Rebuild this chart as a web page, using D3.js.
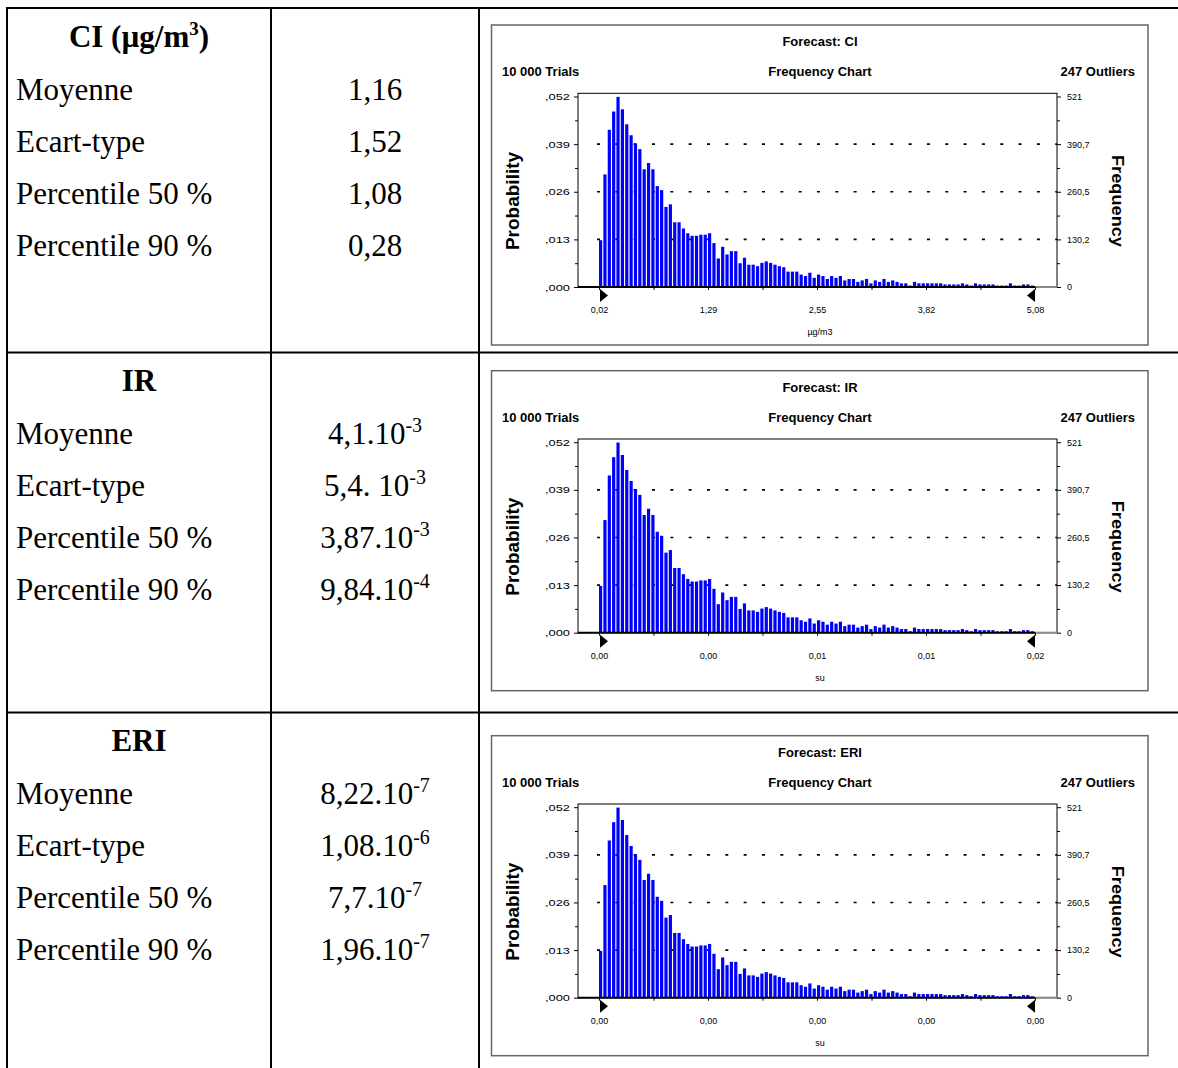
<!DOCTYPE html>
<html>
<head>
<meta charset="utf-8">
<script src="https://cdn.jsdelivr.net/npm/d3@7"></script>
<style>
body { margin: 0; background: #fff; }
</style>
</head>
<body>
<div id="vis"></div>
<script>
// ---- table data
const rowHeaders = ["CI (µg/m", "IR", "ERI"];
const headerSup = ["3", "", ""];
const headerTail = [")", "", ""];
const statLabels = ["Moyenne", "Ecart-type", "Percentile 50 %", "Percentile 90 %"];
const ciValues = ["1,16", "1,52", "1,08", "0,28"];
const ciExp = ["", "", "", ""];
const irValues = ["4,1.10", "5,4. 10", "3,87.10", "9,84.10"];
const irExp = ["-3", "-3", "-3", "-4"];
const eriValues = ["8,22.10", "1,08.10", "7,7.10", "1,96.10"];
const eriExp = ["-7", "-6", "-7", "-7"];

// ---- chart data
const forecastNames = ["CI", "IR", "ERI"];
const unitLabels = ["µg/m3", "su", "su"];
const xTickLabelsCI = ["0,02", "1,29", "2,55", "3,82", "5,08"];
const xTickLabelsIR = ["0,00", "0,00", "0,01", "0,01", "0,02"];
const xTickLabelsERI = ["0,00", "0,00", "0,00", "0,00", "0,00"];
const probTickLabels = [",000", ",013", ",026", ",039", ",052"];
const freqTickValues = [0, 130.2, 260.5, 390.7, 521];
const freqTickLabels = ["0", "130,2", "260,5", "390,7", "521"];
const trialsLabel = "10 000 Trials";
const outliersLabel = "247 Outliers";
const nTrials = 10000;
// probability per cell (100 cells), same shape in the three forecasts
const probabilities = [
  0.0128, 0.0308, 0.0430, 0.0480, 0.0520, 0.0486, 0.0445, 0.0415, 0.0392, 0.0377,
  0.0322, 0.0339, 0.0322, 0.0276, 0.0265, 0.0219, 0.0226, 0.0177, 0.0177, 0.0160,
  0.0147, 0.0140, 0.0140, 0.0143, 0.0143, 0.0147, 0.0120, 0.0078, 0.0110, 0.0089,
  0.0098, 0.0098, 0.0065, 0.0080, 0.0061, 0.0061, 0.0057, 0.0066, 0.0070, 0.0066,
  0.0061, 0.0057, 0.0054, 0.0042, 0.0042, 0.0042, 0.0034, 0.0030, 0.0039, 0.0025,
  0.0034, 0.0030, 0.0022, 0.0030, 0.0025, 0.0030, 0.0018, 0.0022, 0.0022, 0.0014,
  0.0018, 0.0022, 0.0010, 0.0018, 0.0014, 0.0022, 0.0014, 0.0018, 0.0014, 0.0010,
  0.0010, 0.0004, 0.0014, 0.0010, 0.0010, 0.0010, 0.0010, 0.0010, 0.0010, 0.0007,
  0.0007, 0.0007, 0.0007, 0.0010, 0.0007, 0.0004, 0.0010, 0.0007, 0.0007, 0.0007,
  0.0007, 0.0004, 0.0004, 0.0004, 0.0010, 0.0004, 0.0004, 0.0007, 0.0007, 0.0004
];

const tableValues = [ciValues, irValues, eriValues];
const tableExps = [ciExp, irExp, eriExp];
const xTickLabelSets = [xTickLabelsCI, xTickLabelsIR, xTickLabelsERI];

const W = 1178, H = 1068;
const svg = d3.select("#vis").append("svg")
    .attr("width", W).attr("height", H)
    .style("display", "block");

const serif = "'Liberation Serif', 'Times New Roman', serif";
const sans = "'Liberation Sans', Arial, sans-serif";

// ---- table grid
const colX = [7, 271, 479];
const rowY = [8, 352.5, 712.5];
const rowOffsets = [0, 344, 704];

svg.selectAll(".vline").data(colX).join("line")
    .attr("x1", d => d).attr("x2", d => d)
    .attr("y1", 7).attr("y2", H)
    .attr("stroke", "#000").attr("stroke-width", 2);

svg.selectAll(".hline").data(rowY).join("line")
    .attr("x1", 6).attr("x2", W)
    .attr("y1", d => d).attr("y2", d => d)
    .attr("stroke", "#000").attr("stroke-width", 2);

rowHeaders.forEach((h, r) => {
    const g = svg.append("g").attr("transform", `translate(0, ${rowOffsets[r]})`);

    const ht = g.append("text")
        .attr("x", 139).attr("y", 47)
        .attr("text-anchor", "middle")
        .style("font-family", serif).style("font-size", "31px").style("font-weight", "bold")
        .text(h);
    if (headerSup[r]) {
        ht.append("tspan").attr("dy", -12).style("font-size", "19px").text(headerSup[r]);
        ht.append("tspan").attr("dy", 12).text(headerTail[r]);
    }

    statLabels.forEach((s, k) => {
        const by = 99.5 + k * 52.3;
        g.append("text")
            .attr("x", 16).attr("y", by)
            .style("font-family", serif).style("font-size", "31px")
            .text(s);

        const vt = g.append("text")
            .attr("x", 375).attr("y", by)
            .attr("text-anchor", "middle")
            .style("font-family", serif).style("font-size", "31px")
            .text(tableValues[r][k]);
        if (tableExps[r][k]) {
            vt.append("tspan").attr("dy", -12).style("font-size", "20px").text(tableExps[r][k]);
        }
    });
});

// ---- frequency charts
const chartOffsets = [0, 345.7, 710.7];
const plot = { left: 578, right: 1057, top: 93.3, bottom: 287 };

const x = d3.scaleLinear().domain([0, probabilities.length]).range([599, 1035]);
const yFreq = d3.scaleLinear().domain([0, 521]).range([287, 96.5]);
const yProb = d3.scaleLinear().domain([0, 521 / nTrials]).range([287, 96.5]);
const probTickValues = freqTickValues.map(v => v / nTrials);
const xMajor = [0, 25, 50, 75, 100];
const xMinor = d3.pairs(xMajor).map(([a, b]) => (a + b) / 2);
const yMinorProb = d3.pairs(probTickValues).map(([a, b]) => (a + b) / 2);

forecastNames.forEach((name, c) => {
    const g = svg.append("g").attr("transform", `translate(0, ${chartOffsets[c]})`);

    // frame
    g.append("rect")
        .attr("x", 491.5).attr("y", 25)
        .attr("width", 656.5).attr("height", 320)
        .attr("fill", "none").attr("stroke", "#666").attr("stroke-width", 1.5);

    // headings
    g.append("text")
        .attr("x", 820).attr("y", 46)
        .attr("text-anchor", "middle")
        .style("font-family", sans).style("font-size", "13px").style("font-weight", "bold")
        .text(`Forecast: ${name}`);
    g.append("text")
        .attr("x", 502).attr("y", 76)
        .style("font-family", sans).style("font-size", "13px").style("font-weight", "bold")
        .text(trialsLabel);
    g.append("text")
        .attr("x", 820).attr("y", 76)
        .attr("text-anchor", "middle")
        .style("font-family", sans).style("font-size", "13px").style("font-weight", "bold")
        .text("Frequency Chart");
    g.append("text")
        .attr("x", 1135).attr("y", 76)
        .attr("text-anchor", "end")
        .style("font-family", sans).style("font-size", "13px").style("font-weight", "bold")
        .text(outliersLabel);

    // dotted grid
    g.selectAll(".grid").data(probTickValues.slice(1, 4)).join("line")
        .attr("x1", 597).attr("x2", 1057)
        .attr("y1", d => yProb(d)).attr("y2", d => yProb(d))
        .attr("stroke", "#000").attr("stroke-width", 1.6)
        .attr("stroke-dasharray", "3,15.33");

    // bars
    g.selectAll(".bar").data(probabilities).join("rect")
        .attr("x", (_, i) => x(i))
        .attr("y", d => yProb(d))
        .attr("width", 3.2)
        .attr("height", d => yProb(0) - yProb(d))
        .attr("fill", "#0000ff");

    // plot box
    g.append("rect")
        .attr("x", plot.left).attr("y", plot.top)
        .attr("width", plot.right - plot.left).attr("height", plot.bottom - plot.top)
        .attr("fill", "none").attr("stroke", "#000").attr("stroke-width", 1);
    g.append("line")
        .attr("x1", plot.left).attr("x2", x(probabilities.length))
        .attr("y1", plot.bottom).attr("y2", plot.bottom)
        .attr("stroke", "#000").attr("stroke-width", 2);
    g.append("line")
        .attr("x1", x(probabilities.length)).attr("x2", plot.right)
        .attr("y1", plot.bottom).attr("y2", plot.bottom)
        .attr("stroke", "#8a8a8a").attr("stroke-width", 2);

    // left axis (probability)
    const leftAxis = g.append("g")
        .attr("transform", `translate(${plot.left}, 0)`)
        .call(d3.axisLeft(yProb).tickValues(probTickValues)
            .tickFormat((_, i) => probTickLabels[i]).tickSize(4).tickPadding(4));
    g.append("g")
        .attr("transform", `translate(${plot.left}, 0)`)
        .call(d3.axisLeft(yProb).tickValues(yMinorProb).tickFormat("").tickSize(3));

    // right axis (frequency)
    g.append("g")
        .attr("transform", `translate(${plot.right}, 0)`)
        .call(d3.axisRight(yFreq).tickValues(freqTickValues)
            .tickFormat((_, i) => freqTickLabels[i]).tickSize(4).tickPadding(6));
    g.append("g")
        .attr("transform", `translate(${plot.right}, 0)`)
        .call(d3.axisRight(yProb).tickValues(yMinorProb).tickFormat("").tickSize(3));

    // bottom axis
    const bottomAxis = g.append("g")
        .attr("transform", `translate(0, ${plot.bottom})`)
        .call(d3.axisBottom(x).tickValues(xMajor)
            .tickFormat((_, i) => xTickLabelSets[c][i]).tickSize(3).tickPadding(20));
    g.append("g")
        .attr("transform", `translate(0, ${plot.bottom})`)
        .call(d3.axisBottom(x).tickValues(xMinor).tickFormat("").tickSize(3));

    g.selectAll(".domain").remove();
    g.selectAll(".tick line").attr("stroke", "#000").attr("stroke-width", 1);
    g.selectAll(".tick text")
        .style("font-family", sans).style("font-size", "9px").attr("fill", "#000");
    leftAxis.selectAll(".tick text")
        .style("font-size", "9.5px").attr("textLength", 25).attr("lengthAdjust", "spacingAndGlyphs");
    bottomAxis.selectAll(".tick text").attr("dy", "0").attr("y", 26);

    // certainty grabbers
    const tri = d3.line();
    g.append("path")
        .attr("d", tri([[x(0) + 1, 289], [x(0) + 1, 302], [x(0) + 9, 295.5]]) + "Z")
        .attr("fill", "#000");
    const xr = x(probabilities.length);
    g.append("path")
        .attr("d", tri([[xr, 289], [xr, 302], [xr - 8, 295.5]]) + "Z")
        .attr("fill", "#000");

    // axis titles
    g.append("text")
        .attr("transform", "translate(519, 201) rotate(-90)")
        .attr("text-anchor", "middle")
        .style("font-family", sans).style("font-size", "19px").style("font-weight", "bold")
        .text("Probability");
    g.append("text")
        .attr("transform", "translate(1112, 201) rotate(90)")
        .attr("text-anchor", "middle")
        .attr("textLength", 92).attr("lengthAdjust", "spacingAndGlyphs")
        .style("font-family", sans).style("font-size", "16.5px").style("font-weight", "bold")
        .text("Frequency");
    g.append("text")
        .attr("x", 820).attr("y", 335)
        .attr("text-anchor", "middle")
        .style("font-family", sans).style("font-size", "9px")
        .text(unitLabels[c]);
});
</script>
</body>
</html>
